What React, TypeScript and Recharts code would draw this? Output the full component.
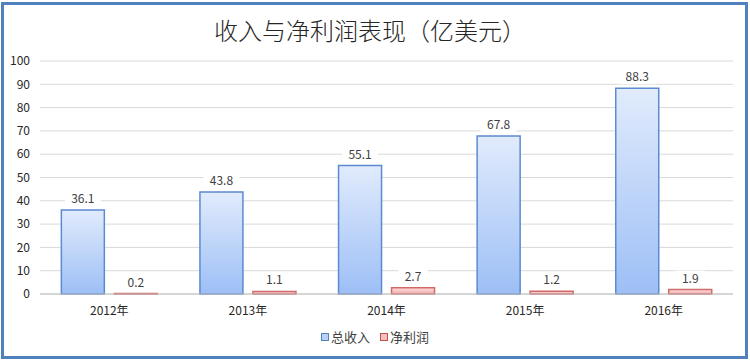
import { BarChart, Bar, XAxis, YAxis, CartesianGrid, Legend, LabelList } from 'recharts';

const years = ['2012年', '2013年', '2014年', '2015年', '2016年'];
const revenue = [36.1, 43.8, 55.1, 67.8, 88.3];
const netProfit = [0.2, 1.1, 2.7, 1.2, 1.9];
const yTicks = [0, 10, 20, 30, 40, 50, 60, 70, 80, 90, 100];

const data = years.map((name, i) => ({ name, revenue: revenue[i], profit: netProfit[i] }));

const font = '"Noto Sans CJK SC", "Noto Sans", sans-serif';

const ValueLabel = (props: any) => {
  const { x, y, width, value } = props;
  const cx = x + width / 2;
  const text = String(value);
  const w = text.length * 7 + 8;
  return (
    <g>
      <rect x={cx - w / 2} y={y - 19} width={w} height={15} fill="#fff" />
      <text x={cx} y={y - 7} textAnchor="middle" fontSize={12} fill="#404040" fontFamily={font}>
        {text}
      </text>
    </g>
  );
};

const LegendBox = () => (
  <div
    style={{
      display: 'flex',
      justifyContent: 'center',
      gap: 10,
      fontSize: 13,
      lineHeight: '18px',
      color: '#404040',
      fontFamily: font,
    }}
  >
    <span style={{ display: 'flex', alignItems: 'center' }}>
      <span
        style={{
          width: 6,
          height: 6,
          border: '1px solid #4f81bd',
          background: '#b9d0f5',
          marginRight: 2,
        }}
      />
      总收入
    </span>
    <span style={{ display: 'flex', alignItems: 'center' }}>
      <span
        style={{
          width: 6,
          height: 6,
          border: '1px solid #c0504d',
          background: '#f7c0c0',
          marginRight: 2,
        }}
      />
      净利润
    </span>
  </div>
);

export default function App() {
  return (
    <div
      style={{
        position: 'absolute',
        left: 0,
        top: 0,
        width: 750,
        height: 361,
        background: '#fff',
        overflow: 'hidden',
      }}
    >
      <div
        style={{
          position: 'absolute',
          left: 1,
          top: 2,
          width: 741,
          height: 351,
          border: '3px solid #4f81bd',
          pointerEvents: 'none',
          zIndex: 2,
        }}
      />
      <div
        style={{
          position: 'absolute',
          left: 0,
          top: 12,
          width: 740,
          textAlign: 'center',
          fontSize: 24,
          fontFamily: font,
          fontWeight: 300,
          color: '#262626',
        }}
      >
        收入与净利润表现（亿美元）
      </div>
      <BarChart
        width={750}
        height={361}
        data={data}
        margin={{ top: 61, right: 17, bottom: 23, left: 0 }}
        barCategoryGap="15.4%"
        barGap={10}
      >
        <defs>
          <linearGradient id="gRev" x1="0" y1="0" x2="0" y2="1">
            <stop offset="0%" stopColor="#e1ebfc" />
            <stop offset="100%" stopColor="#9dbff6" />
          </linearGradient>
          <linearGradient id="gProf" x1="0" y1="0" x2="0" y2="1">
            <stop offset="0%" stopColor="#fde0e0" />
            <stop offset="100%" stopColor="#f4a9a9" />
          </linearGradient>
        </defs>
        <CartesianGrid vertical={false} stroke="#d9d9d9" />
        <XAxis
          dataKey="name"
          height={26}
          tickLine={false}
          axisLine={{ stroke: '#bfbfbf' }}
          tick={{ fontSize: 12, fill: '#262626', fontFamily: font }}
          tickMargin={6}
        />
        <YAxis
          width={40}
          domain={[0, 100]}
          ticks={yTicks}
          tickLine={false}
          axisLine={false}
          tick={{ fontSize: 12, fill: '#262626', fontFamily: font }}
          tickMargin={4}
        />
        <Legend content={<LegendBox />} wrapperStyle={{ top: 328, left: 0, width: 750, height: 18 }} />
        <Bar dataKey="revenue" name="总收入" fill="url(#gRev)" stroke="#5b8bd0" strokeWidth={1.5} isAnimationActive={false}>
          <LabelList dataKey="revenue" content={<ValueLabel />} />
        </Bar>
        <Bar dataKey="profit" name="净利润" fill="url(#gProf)" stroke="#d06a67" strokeWidth={1.5} isAnimationActive={false}>
          <LabelList dataKey="profit" content={<ValueLabel />} />
        </Bar>
      </BarChart>
    </div>
  );
}
